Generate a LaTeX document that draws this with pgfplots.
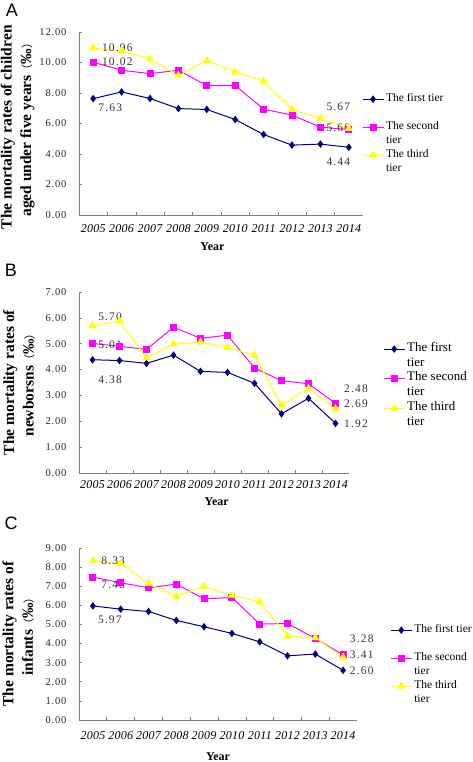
\documentclass[border=0pt]{standalone}
\usepackage{fontspec}
\setmainfont{Liberation Serif}
\newfontfamily\cjk{Noto Sans CJK SC}
\newfontfamily\tickfont[LetterSpace=8]{Liberation Serif}
\newfontfamily\datafont[LetterSpace=10]{Liberation Serif}
\newfontfamily\xfont[LetterSpace=2]{Liberation Serif}
\newfontfamily\letterfont{Liberation Sans}
\usepackage{pgfplots}
\usepackage{pgfplotstable}
\pgfplotsset{compat=1.18}

\definecolor{tierA}{RGB}{0,0,128}
\definecolor{tierB}{RGB}{255,0,255}
\definecolor{tierC}{RGB}{255,255,0}
\definecolor{axgray}{RGB}{128,128,128}

\pgfplotstableread{
x first second third
0 7.63 10.02 10.96
1 8.07 9.49 10.76
2 7.64 9.27 10.21
3 6.98 9.49 9.16
4 6.92 8.49 10.12
5 6.26 8.49 9.38
6 5.28 6.94 8.77
7 4.58 6.55 6.94
8 4.65 5.76 6.35
9 4.44 5.60 5.67
}\dataA

\pgfplotstableread{
x first second third
0 4.38 5.01 5.70
1 4.35 4.90 5.88
2 4.24 4.78 4.45
3 4.56 5.64 4.98
4 3.93 5.21 5.06
5 3.89 5.33 4.85
6 3.47 4.06 4.56
7 2.29 3.57 2.63
8 2.89 3.45 3.27
9 1.92 2.69 2.48
}\dataB

\pgfplotstableread{
x first second third
0 5.97 7.48 8.33
1 5.80 7.18 8.19
2 5.68 6.92 7.14
3 5.21 7.11 6.48
4 4.88 6.34 6.97
5 4.53 6.41 6.53
6 4.09 5.02 6.17
7 3.36 5.05 4.39
8 3.45 4.27 4.30
9 2.60 3.41 3.28
}\dataC

\tikzset{dlab/.style={font=\datafont\fontsize{11.5}{12}\selectfont, text=black!80}}
\newcommand{\permil}{{\fontsize{11}{11}\selectfont\cjk\mdseries （}‰{\fontsize{11}{11}\selectfont\cjk\mdseries ）}}

\pgfplotsset{
  panel/.style={
    scale only axis,
    axis lines*=left,
    axis line style={axgray, line width=0.8pt},
    tick align=inside,
    major tick length=3pt,
    minor tick length=3pt,
    tick style={axgray, line width=0.6pt},
    xmin=-0.5, xmax=9.5,
    xtick={0,1,2,3,4,5,6,7,8,9},
    xticklabels={2005,2006,2007,2008,2009,2010,2011,2012,2013,2014},
    major x tick style={draw=none},
    minor xtick={0.5,1.5,2.5,3.5,4.5,5.5,6.5,7.5,8.5},
    ymin=0,
    scaled y ticks=false,
    yticklabel style={font=\tickfont\fontsize{10.5}{12}\selectfont, xshift=-9pt, text=black!85,
      /pgf/number format/fixed, /pgf/number format/fixed zerofill,
      /pgf/number format/precision=2, /pgf/number format/assume math mode=true},
    xticklabel style={font=\xfont\itshape\fontsize{12}{13}\selectfont},
    ylabel style={align=center, font=\bfseries\fontsize{15.5}{19.5}\selectfont, anchor=center},
    xlabel style={font=\bfseries\fontsize{12}{14}\selectfont, anchor=center},
    clip=false,
    legend cell align=left,
    legend style={draw=none, fill=none, inner sep=0pt, anchor=north west,
      font=\fontsize{11.5}{13}\selectfont,
      nodes={inner ysep=0pt, inner xsep=2pt, text height=9pt, text depth=5pt},
      row sep=0pt},
    legend image code/.code={\draw[mark repeat=2,mark phase=2] plot coordinates {(0pt,0pt) (10.5pt,0pt) (21pt,0pt)};},
  },
  s1/.style={color=tierA, line width=1pt, mark=diamond*, mark size=3pt, mark options={fill=tierA}},
  s2/.style={color=tierB, line width=1pt, mark=square*, mark size=3pt, mark options={fill=tierB}},
  s3/.style={color=tierC, line width=1pt, mark=triangle*, mark size=3.8pt, mark options={fill=tierC}},
}

\begin{document}
\begin{tikzpicture}
\useasboundingbox (0,0) rectangle (472pt,-762pt);

% ---------- Panel A ----------
\node[font=\letterfont\fontsize{18}{18}\selectfont] at (12pt,-10pt) {A};
\begin{axis}[panel, at={(79pt,-215pt)}, anchor=south west, width=284pt, height=183pt,
  ymax=12, ytick={0,2,4,6,8,10,12},
  ylabel={The mortality rates of children\\aged under five years\permil},
  ylabel style={at={(axis description cs:-0.216,0.48)}},
  xticklabel style={yshift=-6pt},
  xlabel={Year}, xlabel style={at={(axis description cs:0.47,0)}, yshift=-32pt},
  legend style={at={(axis description cs:0.996,0.672)}}]
\addplot[s1] table[x=x,y=first] {\dataA}; \addlegendentry{The first tier}
\addlegendimage{empty legend} \addlegendentry{\strut}
\addplot[s2] table[x=x,y=second] {\dataA}; \addlegendentry{The second}
\addlegendimage{empty legend} \addlegendentry{tier}
\addplot[s3] table[x=x,y=third] {\dataA}; \addlegendentry{The third}
\addlegendimage{empty legend} \addlegendentry{tier}
\node[dlab] at (axis cs:0.85,10.96) {10.96};
\node[dlab] at (axis cs:0.85,10.02) {10.02};
\node[dlab] at (axis cs:0.6,7.02) {7.63};
\node[dlab] at (axis cs:8.63,7.08) {5.67};
\node[dlab] at (axis cs:8.63,5.70) {5.60};
\node[dlab] at (axis cs:8.63,3.50) {4.44};
\end{axis}

% ---------- Panel B ----------
\node[font=\letterfont\fontsize{18}{18}\selectfont] at (11pt,-270pt) {B};
\begin{axis}[panel, at={(79pt,-473pt)}, anchor=south west, width=270pt, height=181pt,
  ymax=7, ytick={0,1,2,3,4,5,6,7},
  ylabel={The mortality rates of\\newborsns\permil},
  ylabel style={at={(axis description cs:-0.222,0.5)}},
  xticklabel style={yshift=-4pt},
  xlabel={Year}, xlabel style={at={(axis description cs:0.51,0)}, yshift=-29pt},
  legend style={at={(axis description cs:1.126,0.727)}, font=\fontsize{13}{14}\selectfont,
    nodes={text height=9.5pt, text depth=5.4pt}}]
\addplot[s1] table[x=x,y=first] {\dataB}; \addlegendentry{The first}
\addlegendimage{empty legend} \addlegendentry{tier}
\addplot[s2] table[x=x,y=second] {\dataB}; \addlegendentry{The second}
\addlegendimage{empty legend} \addlegendentry{tier}
\addplot[s3] table[x=x,y=third] {\dataB}; \addlegendentry{The third}
\addlegendimage{empty legend} \addlegendentry{tier}
\node[dlab] at (axis cs:0.65,6.03) {5.70};
\node[dlab] at (axis cs:0.65,4.97) {5.01};
\node[dlab] at (axis cs:0.65,3.62) {4.38};
\node[dlab] at (axis cs:9.76,3.27) {2.48};
\node[dlab] at (axis cs:9.76,2.66) {2.69};
\node[dlab] at (axis cs:9.76,1.89) {1.92};
\end{axis}

% ---------- Panel C ----------
\node[font=\letterfont\fontsize{18}{18}\selectfont] at (11pt,-523pt) {C};
\begin{axis}[panel, at={(79pt,-720pt)}, anchor=south west, width=278pt, height=172pt,
  ymax=9, ytick={0,1,2,3,4,5,6,7,8,9},
  ylabel={The mortality rates of\\infants\permil},
  ylabel style={at={(axis description cs:-0.219,0.5)}},
  xticklabel style={yshift=-8pt},
  xlabel={Year}, xlabel style={at={(axis description cs:0.5,0)}, yshift=-37pt},
  legend style={at={(axis description cs:1.119,0.564)}}]
\addplot[s1] table[x=x,y=first] {\dataC}; \addlegendentry{The first tier}
\addlegendimage{empty legend} \addlegendentry{\strut}
\addplot[s2] table[x=x,y=second] {\dataC}; \addlegendentry{The second}
\addlegendimage{empty legend} \addlegendentry{tier}
\addplot[s3] table[x=x,y=third] {\dataC}; \addlegendentry{The third}
\addlegendimage{empty legend} \addlegendentry{tier}
\node[dlab] at (axis cs:0.73,8.31) {8.33};
\node[dlab] at (axis cs:0.73,7.06) {7.48};
\node[dlab] at (axis cs:0.61,5.23) {5.97};
\node[dlab] at (axis cs:9.67,4.27) {3.28};
\node[dlab] at (axis cs:9.67,3.40) {3.41};
\node[dlab] at (axis cs:9.67,2.58) {2.60};
\end{axis}
\end{tikzpicture}
\end{document}
